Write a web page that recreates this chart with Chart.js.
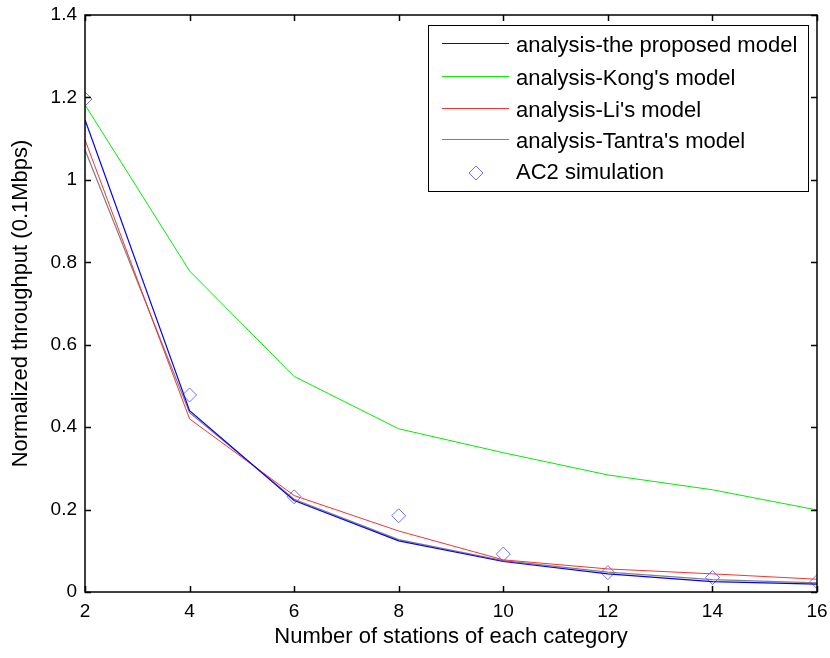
<!DOCTYPE html>
<html>
<head>
<meta charset="utf-8">
<script src="https://cdn.jsdelivr.net/npm/chart.js@4.4.1/dist/chart.umd.min.js"></script>
<style>
  html, body { margin: 0; padding: 0; background: #fff; }
  #wrap { width: 830px; height: 658px; position: relative; }
</style>
</head>
<body>
<div id="wrap"><canvas id="thr"></canvas></div>
<script>
// number of stations per access category
const stations = [2, 4, 6, 8, 10, 12, 14, 16];

// normalized throughput, 0.1 Mbps units
const proposedModel = [1.146, 0.440, 0.222, 0.124, 0.074, 0.044, 0.025, 0.019];
const kongModel     = [1.182, 0.779, 0.523, 0.396, 0.338, 0.284, 0.248, 0.199];
const liModel       = [1.097, 0.420, 0.234, 0.148, 0.078, 0.056, 0.044, 0.031];
const tantraModel   = [1.073, 0.435, 0.225, 0.127, 0.076, 0.048, 0.030, 0.022];
const ac2Simulation = [1.196, 0.478, 0.231, 0.185, 0.092, 0.047, 0.035, 0.025];

const xTicks = [2, 4, 6, 8, 10, 12, 14, 16];
const yTicks = [0, 0.2, 0.4, 0.6, 0.8, 1, 1.2, 1.4];
const yTickLabels = ['0', '0.2', '0.4', '0.6', '0.8', '1', '1.2', '1.4'];

const seriesNames = [
    'analysis-the proposed model',
    "analysis-Kong's model",
    "analysis-Li's model",
    "analysis-Tantra's model",
    'AC2 simulation'
];

const FONT = '"Liberation Sans", Arial, sans-serif';

function pts(ys) {
    return stations.map((x, i) => ({ x: x, y: ys[i] }));
}

// box around the axes with inward tick marks, plus the legend
const framePlugin = {
    id: 'frame',
    afterDraw(chart) {
        const ctx = chart.ctx;
        const a = chart.chartArea;
        const xs = chart.scales.x, ys = chart.scales.y;
        ctx.save();
        ctx.strokeStyle = '#000';
        ctx.lineWidth = 1.5;
        ctx.strokeRect(a.left, a.top, a.right - a.left, a.bottom - a.top);

        const tl = 6;
        ctx.beginPath();
        xTicks.forEach(v => {
            const px = Math.round(xs.getPixelForValue(v)) + 0.5;
            ctx.moveTo(px, a.bottom); ctx.lineTo(px, a.bottom - tl);
            ctx.moveTo(px, a.top); ctx.lineTo(px, a.top + tl);
        });
        yTicks.forEach(v => {
            const py = Math.round(ys.getPixelForValue(v)) + 0.5;
            ctx.moveTo(a.left, py); ctx.lineTo(a.left + tl, py);
            ctx.moveTo(a.right, py); ctx.lineTo(a.right - tl, py);
        });
        ctx.stroke();

        // legend
        const bx = Math.round(a.right) - 389, by = Math.round(a.top) + 10, bw = 380, bh = 166;
        ctx.fillStyle = '#fff';
        ctx.fillRect(bx, by, bw, bh);
        ctx.lineWidth = 1;
        ctx.strokeRect(bx + 0.5, by + 0.5, bw, bh);

        ctx.font = '22px ' + FONT;
        ctx.textBaseline = 'middle';
        ctx.textAlign = 'left';
        const rowY = [21, 54, 86, 117, 148];
        chart.data.datasets.forEach((ds, i) => {
            const y = by + rowY[i];
            ctx.strokeStyle = ds.borderColor;
            ctx.lineWidth = 1;
            ctx.beginPath();
            if (ds.showLine === false) {
                const cx = bx + 48, r = 7;
                ctx.moveTo(cx, y - r); ctx.lineTo(cx + r, y);
                ctx.lineTo(cx, y + r); ctx.lineTo(cx - r, y);
                ctx.closePath();
            } else {
                ctx.moveTo(bx + 14, y - 2.5); ctx.lineTo(bx + 81, y - 2.5);
            }
            ctx.stroke();
            ctx.fillStyle = '#000';
            ctx.fillText(seriesNames[i], bx + 88, y);
        });
        ctx.restore();
    }
};

new Chart(document.getElementById('thr'), {
    type: 'line',
    data: {
        datasets: [
            { label: seriesNames[0], data: pts(proposedModel), borderColor: '#0000ff', borderWidth: 1.2, pointRadius: 0 },
            { label: seriesNames[1], data: pts(kongModel), borderColor: '#00ee00', borderWidth: 1, pointRadius: 0 },
            { label: seriesNames[2], data: pts(liModel), borderColor: '#ff3030', borderWidth: 1, pointRadius: 0 },
            { label: seriesNames[3], data: pts(tantraModel), borderColor: '#808080', borderWidth: 1.2, pointRadius: 0 },
            {
                label: seriesNames[4], data: pts(ac2Simulation), showLine: false,
                borderColor: '#6f6fff', backgroundColor: 'rgba(0,0,0,0)',
                pointStyle: 'rectRot', pointRadius: 7, pointBorderWidth: 1
            }
        ]
    },
    options: {
        responsive: true,
        maintainAspectRatio: false,
        animation: false,
        layout: { padding: { top: 15, right: 13, left: 0, bottom: 0 } },
        plugins: { legend: { display: false }, tooltip: { enabled: false } },
        elements: { line: { tension: 0 } },
        scales: {
            x: {
                type: 'linear', min: 2, max: 16,
                afterBuildTicks: s => { s.ticks = xTicks.map(v => ({ value: v })); },
                afterFit: s => { s.height = 66; s.paddingLeft = 0; s.paddingRight = 0; },
                grid: { display: false, drawTicks: false },
                border: { display: false },
                ticks: { color: '#000', padding: 8, font: { family: FONT, size: 19 } },
                title: {
                    display: true, text: 'Number of stations of each category',
                    color: '#000', font: { family: FONT, size: 22 }, padding: { top: 0, bottom: 8 }
                }
            },
            y: {
                type: 'linear', min: 0, max: 1.4,
                afterBuildTicks: s => { s.ticks = yTicks.map(v => ({ value: v })); },
                afterFit: s => { s.width = 85; s.paddingTop = 0; s.paddingBottom = 0; },
                grid: { display: false, drawTicks: false },
                border: { display: false },
                ticks: {
                    color: '#000', padding: 8, font: { family: FONT, size: 19 },
                    callback: (v, i) => yTickLabels[i]
                },
                title: {
                    display: true, text: 'Normalized throughput (0.1Mbps)',
                    color: '#000', font: { family: FONT, size: 22 }, padding: { top: 8, bottom: 0 }
                }
            }
        }
    },
    plugins: [framePlugin]
});
</script>
</body>
</html>
